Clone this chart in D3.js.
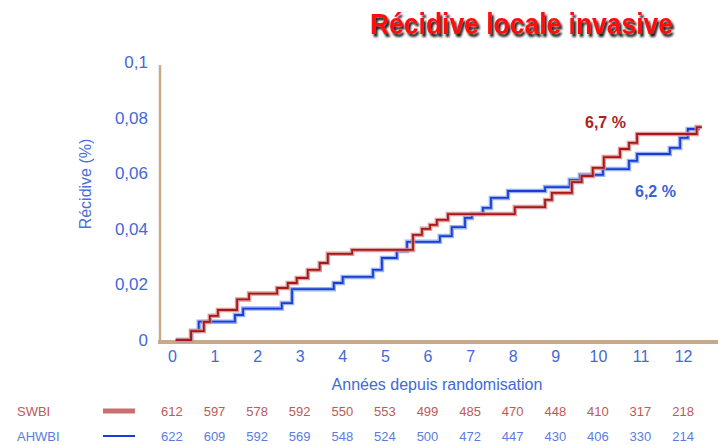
<!DOCTYPE html>
<html>
<head>
<meta charset="utf-8">
<script src="https://cdn.jsdelivr.net/npm/d3@7"></script>
<style>
  body { margin: 0; background: #fff; }
  svg { display: block; font-family: "Liberation Sans", Arial, sans-serif; }
</style>
</head>
<body>
<script>
// step curves (years, cumulative recurrence)
var swbiYears = [0.09, 0.45, 0.75, 0.89, 1.08, 1.53, 1.81, 2.47, 2.72, 2.93, 3.19, 3.47, 3.66, 4.23, 5.66, 5.87, 6.06, 6.22, 6.48, 8.05, 8.76, 8.92, 9.39, 9.62, 9.88, 10.14, 10.52, 10.73, 10.92, 12.32, 12.44];
var swbiRate = [0, 0.0032, 0.0065, 0.0087, 0.0108, 0.0146, 0.0167, 0.0187, 0.0205, 0.0223, 0.0252, 0.0277, 0.031, 0.0324, 0.0378, 0.040, 0.0414, 0.0432, 0.0453, 0.0478, 0.0504, 0.0529, 0.0568, 0.059, 0.0619, 0.0658, 0.0687, 0.0709, 0.0741, 0.0766, 0.0766];

var ahwbiYears = [0.09, 0.45, 0.63, 1.48, 1.67, 2.58, 2.82, 3.80, 4.01, 4.72, 4.93, 5.28, 5.52, 6.29, 6.57, 6.88, 7.04, 7.30, 7.49, 7.89, 8.76, 9.34, 9.58, 10.12, 10.73, 10.92, 11.69, 11.93, 12.11, 12.39];
var ahwbiRate = [0, 0.0032, 0.0066, 0.009, 0.0113, 0.0133, 0.0183, 0.0205, 0.0227, 0.0252, 0.0295, 0.032, 0.0353, 0.0374, 0.0406, 0.0439, 0.0453, 0.0475, 0.0511, 0.0536, 0.055, 0.0576, 0.0594, 0.0615, 0.0644, 0.0669, 0.0691, 0.0727, 0.0759, 0.0759];

var xTicks = [0, 1, 2, 3, 4, 5, 6, 7, 8, 9, 10, 11, 12];
var yTicks = [0, 0.02, 0.04, 0.06, 0.08, 0.1];

// patients at risk
var swbiAtRisk = [612, 597, 578, 592, 550, 553, 499, 485, 470, 448, 410, 317, 218];
var ahwbiAtRisk = [622, 609, 592, 569, 548, 524, 500, 472, 447, 430, 406, 330, 214];

var w = 718, h = 445;

var svg = d3.select("body").append("svg")
    .attr("width", w)
    .attr("height", h);

// scales
var x = d3.scaleLinear().domain([-0.28, 12.82]).range([160, 718]);
var y = d3.scaleLinear().domain([0, 0.1]).range([340, 62]);

var tan = "#c8a98a";

// drop shadow for the title
svg.append("defs").append("filter")
    .attr("id", "shadow")
    .attr("x", "-5%").attr("y", "-20%")
    .attr("width", "115%").attr("height", "160%")
  .append("feDropShadow")
    .attr("dx", 2).attr("dy", 3)
    .attr("stdDeviation", 0.8)
    .attr("flood-color", "#000")
    .attr("flood-opacity", 0.9);

svg.append("text")
    .attr("x", 370).attr("y", 34)
    .attr("textLength", 303).attr("lengthAdjust", "spacingAndGlyphs")
    .attr("filter", "url(#shadow)")
    .style("font-size", "30px").style("font-weight", "bold")
    .style("fill", "#ff1010")
    .text("Récidive locale invasive");

// y axis
var yAxis = d3.axisLeft(y)
    .tickValues(yTicks)
    .tickSize(0)
    .tickPadding(12)
    .tickFormat(function(d) { return d === 0 ? "0" : d3.format(".2~f")(d).replace(".", ","); });

var gy = svg.append("g")
    .attr("transform", "translate(160,0)")
    .call(yAxis);
gy.select(".domain").remove();
gy.selectAll("text")
    .style("font-size", "17px")
    .style("fill", "#4468d8")
    .style("font-family", "Liberation Sans, Arial, sans-serif");

svg.append("line")
    .attr("x1", 160).attr("x2", 160)
    .attr("y1", y(0.1) + 3).attr("y2", y(0) + 4)
    .attr("stroke", tan).attr("stroke-width", 2.5);

// x axis
var xAxis = d3.axisBottom(x)
    .tickValues(xTicks)
    .tickSize(0)
    .tickPadding(9);

var gx = svg.append("g")
    .attr("transform", "translate(0," + (y(0) + 2) + ")")
    .call(xAxis);
gx.select(".domain").remove();
gx.selectAll("text")
    .style("font-size", "16px")
    .style("fill", "#4468d8")
    .style("font-family", "Liberation Sans, Arial, sans-serif");

svg.append("line")
    .attr("x1", 158).attr("x2", w)
    .attr("y1", y(0) + 2).attr("y2", y(0) + 2)
    .attr("stroke", tan).attr("stroke-width", 4);

// axis titles
svg.append("text")
    .attr("x", 437).attr("y", 390)
    .attr("text-anchor", "middle")
    .style("font-size", "16px")
    .style("fill", "#4468d8")
    .text("Années depuis randomisation");

svg.append("text")
    .attr("transform", "translate(91,184) rotate(-90)")
    .attr("text-anchor", "middle")
    .style("font-size", "16px")
    .style("fill", "#4a6fd8")
    .text("Récidive (%)");

// step curves
var line = d3.line()
    .x(function(d) { return x(d[0]); })
    .y(function(d) { return y(d[1]); })
    .curve(d3.curveStepAfter);

var swbi = d3.zip(swbiYears, swbiRate);
var ahwbi = d3.zip(ahwbiYears, ahwbiRate);

function drawCurve(data, light, dark) {
  svg.append("path").datum(data)
      .attr("d", line)
      .attr("fill", "none")
      .attr("stroke", light)
      .attr("stroke-width", 4.5)
      .attr("opacity", 0.85);
  svg.append("path").datum(data)
      .attr("d", line)
      .attr("fill", "none")
      .attr("stroke", dark)
      .attr("stroke-width", 1.8);
}

drawCurve(ahwbi, "#86a2ec", "#1a3ed4");
drawCurve(swbi, "#d48a8a", "#a81818");

// end labels
svg.append("text")
    .attr("x", 585).attr("y", 128)
    .style("font-size", "16px").style("font-weight", "bold")
    .style("fill", "#b02020")
    .text("6,7 %");

svg.append("text")
    .attr("x", 635).attr("y", 197)
    .style("font-size", "16px").style("font-weight", "bold")
    .style("fill", "#3a62d8")
    .text("6,2 %");

// at-risk table
var rows = [
  {name: "SWBI", values: swbiAtRisk, color: "#c05858", lineColor: "#c87070", lw: 5, y: 411},
  {name: "AHWBI", values: ahwbiAtRisk, color: "#5a7ce0", lineColor: "#1a3ed4", lw: 2, y: 436}
];

rows.forEach(function(r) {
  svg.append("text")
      .attr("x", 17).attr("y", r.y + 5)
      .style("font-size", "13px")
      .style("fill", r.color)
      .text(r.name);

  svg.append("line")
      .attr("x1", 103).attr("x2", 135)
      .attr("y1", r.y).attr("y2", r.y)
      .attr("stroke", r.lineColor).attr("stroke-width", r.lw);

  svg.selectAll(null)
      .data(r.values)
      .enter()
      .append("text")
      .attr("x", function(d, i) { return x(xTicks[i]); })
      .attr("y", r.y + 5)
      .attr("text-anchor", "middle")
      .style("font-size", "13px")
      .style("fill", r.color)
      .text(function(d) { return d; });
});
</script>
</body>
</html>
